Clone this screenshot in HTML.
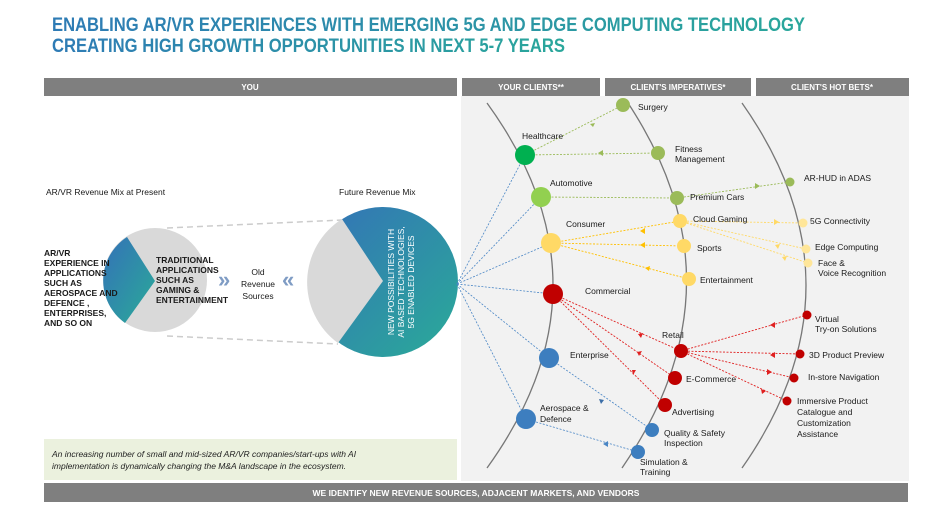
<!DOCTYPE html>
<html><head><meta charset="utf-8"><style>
html,body{margin:0;padding:0;background:#fff;width:940px;height:510px;overflow:hidden}
svg{display:block;font-family:"Liberation Sans",sans-serif}
.l{font-size:8.5px;fill:#1a1a1a}
.h{font-size:8px;fill:#fff;font-weight:bold}
</style></head><body>
<svg width="940" height="510" viewBox="0 0 940 510">
<defs>
<linearGradient id="tg" x1="0" x2="1" y1="0" y2="0"><stop offset="0" stop-color="#2e7bb5"/><stop offset="1" stop-color="#2aa79b"/></linearGradient>
<linearGradient id="cg" x1="0" x2="1" y1="0" y2="1"><stop offset="0" stop-color="#3471b8"/><stop offset="1" stop-color="#2aab98"/></linearGradient>
</defs>
<text x="52" y="31" font-size="19" font-weight="bold" fill="url(#tg)" textLength="753" lengthAdjust="spacingAndGlyphs">ENABLING AR/VR EXPERIENCES WITH EMERGING 5G AND EDGE COMPUTING TECHNOLOGY</text>
<text x="52" y="52" font-size="19" font-weight="bold" fill="url(#tg)" textLength="513" lengthAdjust="spacingAndGlyphs">CREATING HIGH GROWTH OPPORTUNITIES IN NEXT 5-7 YEARS</text>

<rect x="461" y="96" width="448" height="385" fill="#f2f2f2"/>
<rect x="44" y="78" width="413" height="18" fill="#7f7f7f"/>
<rect x="462" y="78" width="138" height="18" fill="#7f7f7f"/>
<rect x="605" y="78" width="146" height="18" fill="#7f7f7f"/>
<rect x="756" y="78" width="153" height="18" fill="#7f7f7f"/>
<text class="h" x="250" y="90" text-anchor="middle">YOU</text>
<text class="h" x="531" y="90" text-anchor="middle">YOUR CLIENTS**</text>
<text class="h" x="678" y="90" text-anchor="middle">CLIENT'S IMPERATIVES*</text>
<text class="h" x="832" y="90" text-anchor="middle">CLIENT'S HOT BETS*</text>

<rect x="44" y="439" width="413" height="41" fill="#ebf1de"/>
<text x="52" y="457" font-size="8.5" font-style="italic" fill="#222">An increasing number of small and mid-sized AR/VR companies/start-ups with AI</text>
<text x="52" y="469" font-size="8.5" font-style="italic" fill="#222">implementation  is dynamically changing the M&amp;A landscape in the ecosystem.</text>
<rect x="44" y="483" width="864" height="19" fill="#7f7f7f"/>
<text x="476" y="496" font-size="8.5" font-weight="bold" fill="#fff" text-anchor="middle">WE IDENTIFY NEW REVENUE SOURCES, ADJACENT MARKETS, AND VENDORS</text>

<text class="l" x="46" y="195">AR/VR Revenue Mix at  Present</text>
<text class="l" x="339" y="195">Future Revenue Mix</text>
<line x1="167" y1="228" x2="342" y2="220" stroke="#ccc" stroke-width="1.5" stroke-dasharray="6,4"/>
<line x1="167" y1="336" x2="338" y2="344" stroke="#ccc" stroke-width="1.5" stroke-dasharray="6,4"/>
<circle cx="155" cy="280" r="52" fill="#d9d9d9"/>
<path d="M127,237 L155,281 L125,323 A52,52 0 0 1 127,237Z" fill="url(#cg)"/>
<g class="l" font-size="7.8" font-weight="bold" fill="#333">
<text x="44" y="256">AR/VR</text><text x="44" y="266">EXPERIENCE IN</text><text x="44" y="276">APPLICATIONS</text><text x="44" y="286">SUCH AS</text><text x="44" y="296">AEROSPACE AND</text><text x="44" y="306">DEFENCE ,</text><text x="44" y="316">ENTERPRISES,</text><text x="44" y="326">AND SO ON</text>
<text x="156" y="263">TRADITIONAL</text><text x="156" y="273">APPLICATIONS</text><text x="156" y="283">SUCH AS</text><text x="156" y="293">GAMING &amp;</text><text x="156" y="303">ENTERTAINMENT</text>
</g>
<text x="218" y="287" font-size="22" font-weight="bold" fill="#7f9cc4">»</text>
<text x="282" y="287" font-size="22" font-weight="bold" fill="#7f9cc4">«</text>
<g class="l" text-anchor="middle"><text x="258" y="275">Old</text><text x="258" y="287">Revenue</text><text x="258" y="299">Sources</text></g>
<circle cx="383" cy="282" r="75" fill="url(#cg)"/>
<path d="M342,219 L383,281 L338,343 A75,75 0 0 1 342,219Z" fill="#d9d9d9"/>
<g transform="translate(400,282) rotate(-90)" font-size="8.5" fill="#fff" text-anchor="middle">
<text x="0" y="-6">NEW POSSIBILITIES WITH</text><text x="0" y="4">AI BASED TECHNOLOGIES,</text><text x="0" y="14">5G ENABLED DEVICES</text></g>

<g fill="none" stroke="#777" stroke-width="1.3">
<path d="M487,103 Q619,285 487,468"/>
<path d="M628,103 Q748,285 622,468"/>
<path d="M742,103 Q870,285 742,468"/>
</g>
<g stroke="#4a86c5" stroke-width="0.8" stroke-dasharray="2,1.5">
<line x1="457" y1="284" x2="525" y2="155"/><line x1="457" y1="284" x2="541" y2="197"/><line x1="457" y1="284" x2="551" y2="243"/><line x1="457" y1="284" x2="553" y2="294"/><line x1="457" y1="284" x2="549" y2="358"/><line x1="457" y1="284" x2="526" y2="419"/>
<line x1="549" y1="358" x2="652" y2="430"/><line x1="526" y1="419" x2="638" y2="452"/>
</g>
<g stroke="#9bbb59" stroke-width="0.9" stroke-dasharray="2,1.5">
<line x1="525" y1="155" x2="623" y2="105"/><line x1="525" y1="155" x2="658" y2="153"/><line x1="541" y1="197" x2="677" y2="198"/><line x1="677" y1="198" x2="790" y2="182"/>
</g>
<g stroke="#ffc000" stroke-width="0.9" stroke-dasharray="2,1.5">
<line x1="551" y1="243" x2="680" y2="221"/><line x1="551" y1="243" x2="684" y2="246"/><line x1="551" y1="243" x2="689" y2="279"/>
</g>
<g stroke="#ffd966" stroke-width="0.9" stroke-dasharray="2,1.5">
<line x1="680" y1="221" x2="803" y2="223"/><line x1="680" y1="221" x2="806" y2="249"/><line x1="680" y1="221" x2="808" y2="263"/>
</g>
<g stroke="#e02020" stroke-width="0.9" stroke-dasharray="2,1.5">
<line x1="553" y1="294" x2="681" y2="351"/><line x1="553" y1="294" x2="675" y2="378"/><line x1="553" y1="294" x2="665" y2="405"/>
<line x1="681" y1="351" x2="807" y2="315"/><line x1="681" y1="351" x2="800" y2="354"/><line x1="681" y1="351" x2="794" y2="378"/><line x1="681" y1="351" x2="787" y2="401"/>
</g>
<g>
<path d="M590,124 l5,-1 -2,4z" fill="#9bbb59"/><path d="M598,153 l5,-3 0,6z" fill="#9bbb59"/><path d="M760,186 l-5,-3 0,6z" fill="#9bbb59"/>
<path d="M640,231 l5,-3 0,6z" fill="#ffc000"/><path d="M640,245 l5,-3 0,6z" fill="#ffc000"/><path d="M645,268 l5,-2 -1,5z" fill="#ffc000"/>
<path d="M779,222 l-5,-3 0,6z" fill="#ffd966"/><path d="M775,245 l5,-1 -2,5z" fill="#ffd966"/><path d="M782,257 l5,-1 -2,5z" fill="#ffd966"/>
<path d="M638,334 l5,-1 -2,5z" fill="#e02020"/><path d="M637,352 l5,-1 -3,5z" fill="#e02020"/><path d="M632,370 l4,0 -3,5z" fill="#e02020"/>
<path d="M770,325 l5,-3 0,6z" fill="#e02020"/><path d="M770,355 l5,-3 0,6z" fill="#e02020"/><path d="M772,372 l-5,-3 0,6z" fill="#e02020"/><path d="M766,391 l-5,-2 1,5z" fill="#e02020"/>
<path d="M604,400 l-5,-1 2,5z" fill="#3d6fa8"/><path d="M603,444 l5,-3 0,6z" fill="#4a86c5"/>
</g>
<circle cx="525" cy="155" r="10" fill="#00b050"/><circle cx="541" cy="197" r="10" fill="#92d050"/><circle cx="551" cy="243" r="10" fill="#ffd966"/><circle cx="553" cy="294" r="10" fill="#c00000"/><circle cx="549" cy="358" r="10" fill="#3d7ebf"/><circle cx="526" cy="419" r="10" fill="#3d7ebf"/>
<circle cx="623" cy="105" r="7" fill="#9bbb59"/><circle cx="658" cy="153" r="7" fill="#9bbb59"/><circle cx="677" cy="198" r="7" fill="#9bbb59"/>
<circle cx="680" cy="221" r="7" fill="#ffd966"/><circle cx="684" cy="246" r="7" fill="#ffd966"/><circle cx="689" cy="279" r="7" fill="#ffd966"/>
<circle cx="681" cy="351" r="7" fill="#c00000"/><circle cx="675" cy="378" r="7" fill="#c00000"/><circle cx="665" cy="405" r="7" fill="#c00000"/>
<circle cx="652" cy="430" r="7" fill="#3d7ebf"/><circle cx="638" cy="452" r="7" fill="#3d7ebf"/>
<circle cx="790" cy="182" r="4.5" fill="#9bbb59"/><circle cx="803" cy="223" r="4.5" fill="#ffe699"/><circle cx="806" cy="249" r="4.5" fill="#ffe699"/><circle cx="808" cy="263" r="4.5" fill="#ffe699"/>
<circle cx="807" cy="315" r="4.5" fill="#c00000"/><circle cx="800" cy="354" r="4.5" fill="#c00000"/><circle cx="794" cy="378" r="4.5" fill="#c00000"/><circle cx="787" cy="401" r="4.5" fill="#c00000"/>
<g class="l">
<text x="522" y="139">Healthcare</text><text x="550" y="186">Automotive</text><text x="566" y="227">Consumer</text><text x="585" y="294">Commercial</text><text x="570" y="358">Enterprise</text><text x="540" y="411">Aerospace &amp;</text><text x="540" y="422">Defence</text>
<text x="638" y="110">Surgery</text><text x="675" y="152">Fitness</text><text x="675" y="162">Management</text><text x="690" y="200">Premium Cars</text><text x="693" y="222">Cloud Gaming</text><text x="697" y="251">Sports</text><text x="700" y="283">Entertainment</text>
<text x="662" y="338">Retail</text><text x="686" y="382">E-Commerce</text><text x="672" y="415">Advertising</text><text x="664" y="436">Quality &amp; Safety</text><text x="664" y="446">Inspection</text><text x="640" y="465">Simulation &amp;</text><text x="640" y="475">Training</text>
<text x="804" y="181">AR-HUD in ADAS</text><text x="810" y="224">5G Connectivity</text><text x="815" y="250">Edge Computing</text><text x="818" y="266">Face &amp;</text><text x="818" y="276">Voice Recognition</text>
<text x="815" y="322">Virtual</text><text x="815" y="332">Try-on Solutions</text><text x="809" y="358">3D Product Preview</text><text x="808" y="380">In-store Navigation</text>
<text x="797" y="404">Immersive Product</text><text x="797" y="415">Catalogue and</text><text x="797" y="426">Customization</text><text x="797" y="437">Assistance</text>
</g>
</svg>
</body></html>
